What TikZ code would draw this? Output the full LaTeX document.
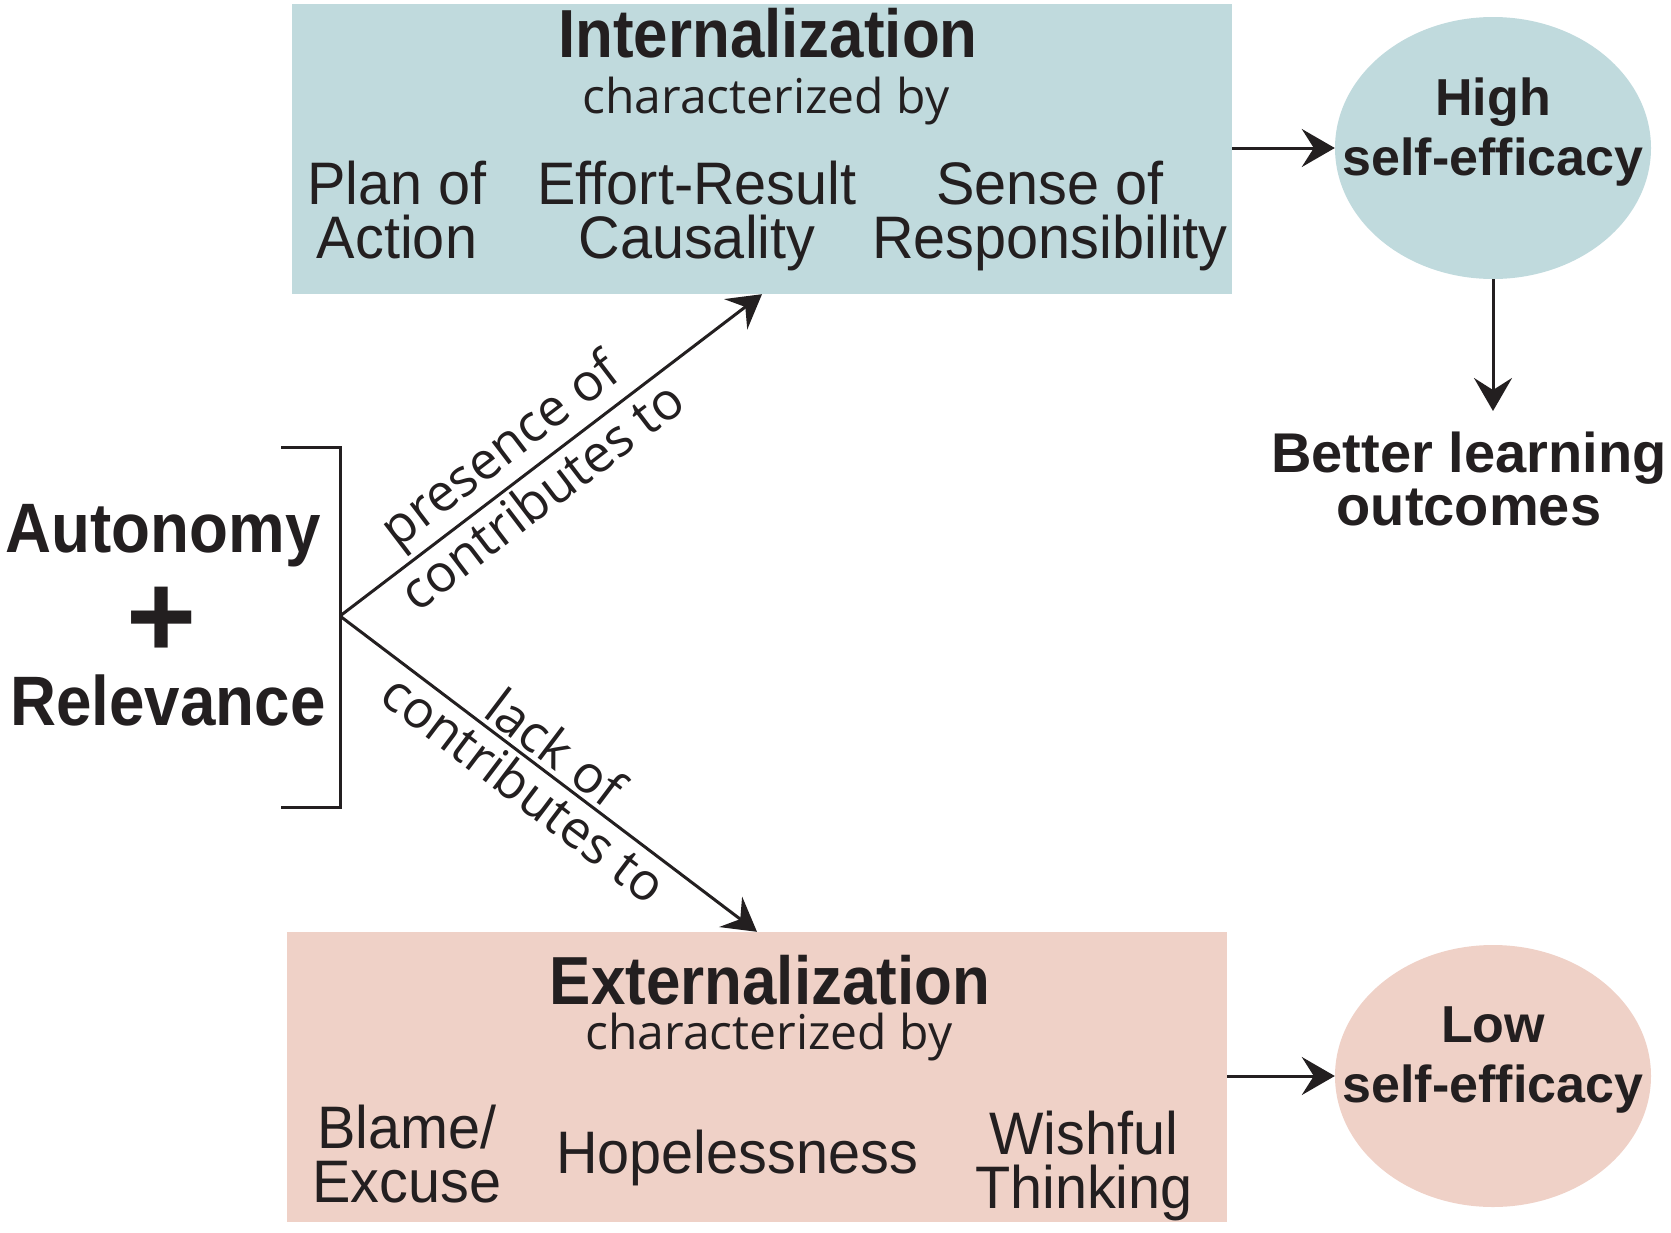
\documentclass[tikz,border=0pt]{standalone}
\usepackage{fontspec}
\setmainfont{Liberation Sans}
\newfontfamily\condfont{Liberation Sans}[FakeStretch=0.91]
\newfontfamily\itemfont{Liberation Sans}[FakeStretch=0.96]
\newfontfamily\lblfont{Open Sans}
\usetikzlibrary{arrows.meta,shapes.geometric}
\definecolor{intfill}{HTML}{C0DADD}
\definecolor{extfill}{HTML}{EFD1C7}
\definecolor{ink}{HTML}{231F20}
\tikzset{
	panel/.style={rectangle, minimum width=940pt, minimum height=290pt, inner sep=0pt},
	oval/.style={ellipse, minimum width=316pt, minimum height=262pt, inner sep=0pt},
	title/.style={anchor=base, inner sep=0pt, font=\condfont\bfseries\fontsize{68}{68}\selectfont},
	byline/.style={anchor=base, inner sep=0pt, font=\lblfont\fontsize{48}{48}\selectfont},
	item/.style={anchor=base, inner sep=0pt, align=center, font=\itemfont\fontsize{60}{54}\selectfont},
	effic/.style={anchor=base, inner sep=0pt, align=center, font=\bfseries\fontsize{52}{60}\selectfont},
	factor/.style={anchor=base, inner sep=0pt, font=\condfont\bfseries\fontsize{70}{70}\selectfont},
	lbl/.style={sloped, inner sep=4pt, font=\lblfont\fontsize{52}{52}\selectfont},
	conn/.style={draw=ink, line width=3pt, -{Stealth[length=33pt,width=38pt,inset=12pt]}},
}
\begin{document}
\begin{tikzpicture}[x=1pt, y=-1pt, every node/.append style={text=ink}]
	\useasboundingbox (0,0) rectangle (1671,1232);
	% panels and ovals
	\node[panel, fill=intfill] (intbox) at (762,149) {};
	\node[panel, fill=extfill] (extbox) at (757,1077) {};
	\node[oval, fill=intfill] (high) at (1493,148) {};
	\node[oval, fill=extfill] (low) at (1493,1076) {};
	% internalization (base = last line)
	\node[title] (inttitle) at (768,57) {Internalization};
	\node[byline] (intby) at (766,113) {characterized by};
	\node[item] (plan) at (397,258) {Plan of\\Action};
	\node[item] (effort) at (697,258) {Effort-Result\\Causality};
	\node[item] (sense) at (1050,258) {Sense of\\Responsibility};
	% externalization
	\node[title] (exttitle) at (770,1004) {Externalization};
	\node[byline] (extby) at (769,1049) {characterized by};
	\node[item] (blame) at (407,1202) {Blame/\\Excuse};
	\node[item] (hope) at (737,1173) {Hopelessness};
	\node[item] (wish) at (1084,1208) {Wishful\\Thinking};
	% outcomes
	\node[effic] (hightxt) at (1493,175) {High\\self-efficacy};
	\node[effic] (lowtxt) at (1493,1102) {Low\\self-efficacy};
	\node[effic, font=\bfseries\fontsize{56}{53}\selectfont] (better) at (1469,525) {Better learning\\outcomes};
	\coordinate (bettertip) at (1493,411);
	% autonomy + relevance
	\node[factor] (auton) at (163,552) {Autonomy};
	\node[anchor=base, inner sep=0pt, font=\bfseries\fontsize{120}{120}\selectfont] (plus) at (162,657) {+};
	\node[factor] (relev) at (168,725) {Relevance};
	\draw[ink, line width=3pt] (281,447) -- (340,447) -- (340,807) -- (281,807);
	\coordinate (apex) at (340,616);
	% connectors
	\draw[conn] (apex) -- node[lbl, above, pos=0.43] (pres) {presence of}
		node[lbl, below, pos=0.44] (contup) {contributes to} (intbox.south);
	\draw[conn] (apex) -- node[lbl, above, pos=0.48] (lack) {lack of}
		node[lbl, below, pos=0.48] (contdown) {contributes to} (extbox.north);
	\draw[conn] (intbox.east |- high.west) -- (high.west);
	\draw[conn] (extbox.east |- low.west) -- (low.west);
	\draw[conn] (high.south) -- (bettertip);
\end{tikzpicture}
\end{document}
